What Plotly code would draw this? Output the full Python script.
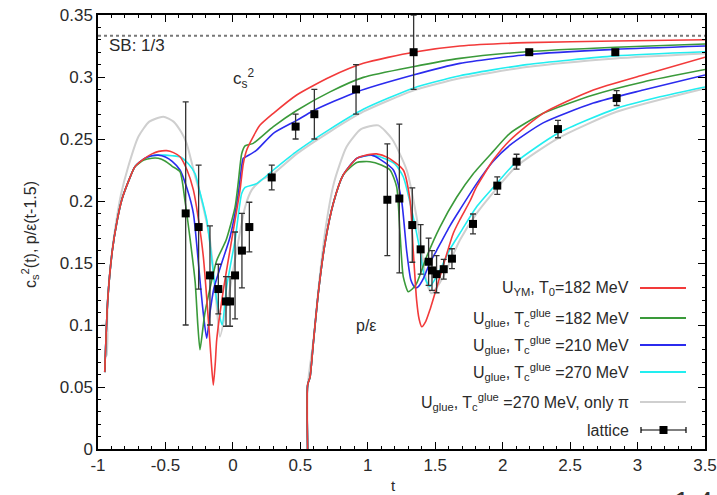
import plotly.graph_objects as go

# ---------------- data -----------------
SB_LIMIT = 1.0 / 3.0

# lattice c_s^2 points
lat_cs_t = [-0.35, -0.254, -0.17, -0.108, -0.051, -0.021, 0.016, 0.067, 0.122, 0.288, 0.465, 0.604, 0.913, 1.34, 2.197, 2.835]
lat_cs_y = [0.19, 0.179, 0.14, 0.129, 0.119, 0.119, 0.14, 0.16, 0.179, 0.219, 0.26, 0.27, 0.29, 0.32, 0.32, 0.32]
lat_cs_e = [0.09, 0.05, 0.04, 0.02, 0.02, 0.02, 0.035, 0.03, 0.02, 0.01, 0.01, 0.02, 0.02, 0.03, 0.0, 0.0]

# lattice p/eps points (shifted by 1.5)
lat_pe_t = [1.145, 1.234, 1.33, 1.392, 1.451, 1.476, 1.51, 1.563, 1.624, 1.78, 1.96, 2.103, 2.41, 2.845]
lat_pe_y = [0.201, 0.202, 0.1806, 0.161, 0.151, 0.144, 0.141, 0.145, 0.1535, 0.1815, 0.2124, 0.2317, 0.258, 0.283]
lat_pe_e = [0.045, 0.06, 0.03, 0.02, 0.019, 0.016, 0.015, 0.008, 0.008, 0.008, 0.007, 0.006, 0.007, 0.006]

# c_s^2 curves
red_cs_t = [-0.95, -0.928, -0.894, -0.86, -0.824, -0.77, -0.726, -0.66, -0.6, -0.55, -0.49, -0.44, -0.392, -0.34, -0.293, -0.255, -0.219, -0.18, -0.16, -0.145, -0.13, -0.12, -0.071, -0.009, 0.053, 0.077, 0.102, 0.151, 0.2, 0.3, 0.473, 0.72, 0.967, 1.337, 1.683, 2.177, 2.835, 3.5]
red_cs_y = [0.062, 0.12, 0.16, 0.183, 0.2008, 0.217, 0.2277, 0.234, 0.238, 0.24, 0.2406, 0.239, 0.2357, 0.225, 0.209, 0.185, 0.155, 0.1015, 0.07, 0.0516, 0.07, 0.088, 0.128, 0.1685, 0.209, 0.23, 0.241, 0.252, 0.261, 0.2707, 0.2855, 0.3, 0.311, 0.32, 0.325, 0.3277, 0.329, 0.33]

green_cs_t = [-0.95, -0.928, -0.894, -0.86, -0.824, -0.77, -0.726, -0.66, -0.6, -0.553, -0.5, -0.45, -0.392, -0.355, -0.318, -0.28, -0.26, -0.244, -0.225, -0.207, -0.12, -0.05, 0.016, 0.04, 0.065, 0.09, 0.151, 0.3, 0.473, 0.72, 0.967, 1.337, 1.683, 2.177, 2.835, 3.5]
green_cs_y = [0.062, 0.12, 0.16, 0.183, 0.2008, 0.217, 0.2277, 0.233, 0.2345, 0.2344, 0.232, 0.228, 0.2236, 0.2, 0.17, 0.135, 0.1, 0.08, 0.095, 0.11, 0.152, 0.1685, 0.195, 0.215, 0.238, 0.2445, 0.2465, 0.26, 0.273, 0.288, 0.2997, 0.3083, 0.315, 0.3204, 0.324, 0.3266]

blue_cs_t = [-0.95, -0.928, -0.894, -0.86, -0.824, -0.77, -0.726, -0.66, -0.6, -0.553, -0.5, -0.45, -0.392, -0.34, -0.293, -0.244, -0.22, -0.194, -0.17, -0.14, -0.083, -0.021, 0.04, 0.065, 0.077, 0.102, 0.176, 0.3, 0.473, 0.596, 0.918, 1.337, 1.683, 2.177, 2.835, 3.5]
blue_cs_y = [0.062, 0.12, 0.16, 0.183, 0.2008, 0.217, 0.2277, 0.234, 0.2365, 0.237, 0.2355, 0.232, 0.225, 0.21, 0.19, 0.136, 0.11, 0.0893, 0.11, 0.13, 0.15, 0.171, 0.206, 0.228, 0.2344, 0.236, 0.241, 0.2546, 0.265, 0.2728, 0.288, 0.3016, 0.311, 0.318, 0.3223, 0.325]

cyan_cs_t = [-0.95, -0.928, -0.894, -0.86, -0.824, -0.77, -0.726, -0.66, -0.6, -0.553, -0.5, -0.45, -0.392, -0.33, -0.28, -0.244, -0.194, -0.15, -0.12, -0.08, -0.046, 0.016, 0.065, 0.09, 0.176, 0.3, 0.473, 0.72, 0.967, 1.337, 1.683, 2.177, 2.835, 3.5]
cyan_cs_y = [0.062, 0.12, 0.16, 0.183, 0.2008, 0.217, 0.2277, 0.234, 0.2365, 0.237, 0.237, 0.2365, 0.2357, 0.23, 0.222, 0.207, 0.1847, 0.147, 0.12, 0.1, 0.131, 0.1685, 0.206, 0.211, 0.214, 0.225, 0.24, 0.258, 0.274, 0.291, 0.301, 0.31, 0.317, 0.3204]

gray_cs_t = [-0.975, -0.935, -0.935, -0.928, -0.9, -0.87, -0.83, -0.775, -0.7, -0.62, -0.516, -0.44, -0.38, -0.343, -0.28, -0.244, -0.17, -0.13, -0.096, -0.046, 0.028, 0.09, 0.14, 0.213, 0.3, 0.473, 0.72, 0.967, 1.337, 1.683, 2.177, 2.835, 3.5]
gray_cs_y = [0.1, 0.1, 0.075, 0.12, 0.155, 0.18, 0.205, 0.228, 0.252, 0.264, 0.268, 0.264, 0.255, 0.2465, 0.22, 0.206, 0.1685, 0.128, 0.0906, 0.115, 0.16, 0.195, 0.209, 0.217, 0.222, 0.238, 0.256, 0.272, 0.289, 0.299, 0.308, 0.315, 0.319]

# p/eps curves (argument t-1.5)
red_pe_t = [0.554, 0.554, 0.572, 0.596, 0.633, 0.683, 0.744, 0.818, 0.918, 0.97, 1.065, 1.15, 1.263, 1.313, 1.337, 1.362, 1.38, 1.4, 1.43, 1.46, 1.535, 1.634, 1.683, 1.758, 1.807, 1.93, 2.054, 2.3, 2.672, 3.042, 3.5]
red_pe_y = [0.0, 0.0516, 0.058, 0.085, 0.1256, 0.166, 0.198, 0.221, 0.2344, 0.2365, 0.238, 0.235, 0.225, 0.2008, 0.16, 0.12, 0.105, 0.0986, 0.103, 0.112, 0.139, 0.174, 0.185, 0.2, 0.2115, 0.233, 0.249, 0.2707, 0.2895, 0.3016, 0.316]

green_pe_t = [0.554, 0.554, 0.572, 0.596, 0.633, 0.683, 0.744, 0.818, 0.918, 1.016, 1.1, 1.165, 1.214, 1.239, 1.263, 1.3, 1.33, 1.362, 1.436, 1.535, 1.659, 1.782, 1.93, 2.054, 2.3, 2.672, 3.042, 3.5]
green_pe_y = [0.0, 0.0516, 0.058, 0.085, 0.1256, 0.166, 0.198, 0.221, 0.231, 0.2317, 0.229, 0.225, 0.2115, 0.174, 0.139, 0.1269, 0.129, 0.1336, 0.155, 0.179, 0.203, 0.222, 0.24, 0.2546, 0.2707, 0.2855, 0.296, 0.306]

blue_pe_t = [0.554, 0.554, 0.572, 0.596, 0.633, 0.683, 0.744, 0.818, 0.918, 1.028, 1.1, 1.19, 1.25, 1.288, 1.32, 1.35, 1.375, 1.41, 1.46, 1.51, 1.609, 1.683, 1.807, 1.93, 2.054, 2.3, 2.672, 3.042, 3.5]
blue_pe_y = [0.0, 0.0516, 0.058, 0.085, 0.1256, 0.166, 0.198, 0.221, 0.2344, 0.237, 0.233, 0.225, 0.2008, 0.16, 0.136, 0.13, 0.131, 0.137, 0.15, 0.16, 0.18, 0.193, 0.214, 0.232, 0.245, 0.263, 0.279, 0.2895, 0.3016]

cyan_pe_t = [0.554, 0.554, 0.572, 0.596, 0.633, 0.683, 0.744, 0.818, 0.918, 1.028, 1.09, 1.2, 1.263, 1.337, 1.387, 1.42, 1.46, 1.523, 1.609, 1.683, 1.807, 1.955, 2.103, 2.41, 2.845, 3.166, 3.5]
cyan_pe_y = [0.0, 0.0516, 0.058, 0.085, 0.1256, 0.166, 0.198, 0.221, 0.2344, 0.237, 0.2357, 0.23, 0.2196, 0.187, 0.16, 0.139, 0.131, 0.1417, 0.161, 0.174, 0.1954, 0.214, 0.2317, 0.2546, 0.2747, 0.284, 0.292]

gray_pe_t = [0.554, 0.554, 0.6, 0.64, 0.69, 0.75, 0.843, 0.95, 1.078, 1.18, 1.288, 1.362, 1.41, 1.44, 1.473, 1.51, 1.56, 1.683, 1.807, 1.955, 2.103, 2.41, 2.845, 3.5]
gray_pe_y = [0.0, 0.05, 0.09, 0.135, 0.18, 0.215, 0.2438, 0.258, 0.261, 0.25, 0.225, 0.187, 0.152, 0.133, 0.1256, 0.13, 0.139, 0.1685, 0.19, 0.21, 0.228, 0.2506, 0.272, 0.2908]

legend_labels = [
    "U<sub>YM</sub>, T<sub>0</sub>=182 MeV",
    "U<sub>glue</sub>, T<sub>c</sub><sup>glue</sup> =182 MeV",
    "U<sub>glue</sub>, T<sub>c</sub><sup>glue</sup> =210 MeV",
    "U<sub>glue</sub>, T<sub>c</sub><sup>glue</sup> =270 MeV",
    "U<sub>glue</sub>, T<sub>c</sub><sup>glue</sup> =270 MeV, only π",
    "lattice",
]

x_ticks = [-1, -0.5, 0, 0.5, 1, 1.5, 2, 2.5, 3, 3.5]
x_tick_text = ["-1", "-0.5", "0", "0.5", "1", "1.5", "2", "2.5", "3", "3.5"]
y_ticks = [0, 0.05, 0.1, 0.15, 0.2, 0.25, 0.3, 0.35]
y_tick_text = ["0", "0.05", "0.1", "0.15", "0.2", "0.25", "0.3", "0.35"]

# ---------------- styles -----------------
RED = "#f23a3a"
GREEN = "#3a9a3a"
BLUE = "#2b2bee"
CYAN = "#22eef0"
GRAY = "#cfcfcf"
FONT = "Liberation Sans, Arial, sans-serif"
TXT = "#2a2a2a"

fig = go.Figure()

def curve(t, y, color, width=1.6):
    fig.add_trace(go.Scatter(x=t, y=y, mode="lines", line=dict(color=color, width=width, shape="spline", smoothing=0.6),
                             showlegend=False, hoverinfo="skip"))

curve(gray_cs_t, gray_cs_y, GRAY, 2.0)
curve(gray_pe_t, gray_pe_y, GRAY, 2.0)
curve(cyan_cs_t, cyan_cs_y, CYAN)
curve(cyan_pe_t, cyan_pe_y, CYAN)
curve(blue_cs_t, blue_cs_y, BLUE)
curve(blue_pe_t, blue_pe_y, BLUE)
curve(green_cs_t, green_cs_y, GREEN)
curve(green_pe_t, green_pe_y, GREEN)
curve(red_cs_t, red_cs_y, RED)
curve(red_pe_t, red_pe_y, RED)

for tt, yy, ee in [(lat_cs_t, lat_cs_y, lat_cs_e), (lat_pe_t, lat_pe_y, lat_pe_e)]:
    fig.add_trace(go.Scatter(
        x=tt, y=yy, mode="markers",
        marker=dict(symbol="square", size=8, color="black"),
        error_y=dict(type="data", array=ee, visible=True, color="#333333", thickness=1.3, width=3),
        showlegend=False, hoverinfo="skip"))

# ---------------- layout -----------------
L, R, T, B = 98, 12, 15, 46
W, H = 717, 495
pw, ph = W - L - R, H - T - B

def px_x(px):
    return (px - L) / pw

def px_y(py):
    return (H - B - py) / ph

shapes = [dict(type="line", xref="paper", yref="y", x0=0, x1=1, y0=SB_LIMIT, y1=SB_LIMIT,
               line=dict(color="#777777", width=2, dash="dot"))]
annotations = []

legend_rows = [288, 318, 345, 372, 402, 430]
legend_colors = [RED, GREEN, BLUE, CYAN, GRAY, None]
for lab, py, col in zip(legend_labels, legend_rows, legend_colors):
    annotations.append(dict(xref="paper", yref="paper", x=px_x(631), y=px_y(py), xanchor="right", yanchor="middle",
                            text=lab, showarrow=False, font=dict(family=FONT, size=16, color=TXT)))
    if col is not None:
        shapes.append(dict(type="line", xref="paper", yref="paper", x0=px_x(640), x1=px_x(686), y0=px_y(py), y1=px_y(py),
                           line=dict(color=col, width=2)))
    else:
        shapes.append(dict(type="line", xref="paper", yref="paper", x0=px_x(641), x1=px_x(686), y0=px_y(py), y1=px_y(py),
                           line=dict(color="black", width=1.2)))
        for cx in (641, 686):
            shapes.append(dict(type="line", xref="paper", yref="paper", x0=px_x(cx), x1=px_x(cx), y0=px_y(py - 3), y1=px_y(py + 3),
                               line=dict(color="black", width=1.2)))
        shapes.append(dict(type="rect", xref="paper", yref="paper", x0=px_x(659.5), x1=px_x(667.5), y0=px_y(py - 4), y1=px_y(py + 4),
                           line=dict(color="black", width=0), fillcolor="black"))

annotations += [
    dict(xref="paper", yref="paper", x=px_x(107), y=px_y(45), xanchor="left", yanchor="middle", text="SB: 1/3",
         showarrow=False, font=dict(family=FONT, size=17, color=TXT)),
    dict(xref="paper", yref="paper", x=px_x(231), y=px_y(78), xanchor="left", yanchor="middle", text="c<sub>s</sub><sup>2</sup>",
         showarrow=False, font=dict(family=FONT, size=17, color=TXT)),
    dict(xref="paper", yref="paper", x=px_x(354), y=px_y(325), xanchor="left", yanchor="middle", text="p/ε",
         showarrow=False, font=dict(family=FONT, size=16, color=TXT)),
    dict(xref="paper", yref="paper", x=px_x(30), y=px_y(235), xanchor="center", yanchor="middle", textangle=-90,
         text="c<sub>s</sub><sup>2</sup>(t), p/ε(t-1.5)", showarrow=False, font=dict(family=FONT, size=16, color=TXT)),
    dict(xref="paper", yref="paper", x=px_x(393), y=px_y(485), xanchor="center", yanchor="middle", text="t",
         showarrow=False, font=dict(family=FONT, size=15, color=TXT)),
    dict(xref="paper", yref="paper", x=px_x(672), y=px_y(484), xanchor="left", yanchor="top", text="1.4",
         showarrow=False, font=dict(family=FONT, size=28, color="#333333")),
]

axis_common = dict(showline=True, linecolor="black", linewidth=1.5, mirror="allticks", ticks="inside",
                   ticklen=7, tickwidth=1.2, tickcolor="black", showgrid=False, zeroline=False,
                   automargin=False, tickfont=dict(family=FONT, size=17, color=TXT))

fig.update_layout(
    width=W, height=H,
    margin=dict(l=L, r=R, t=T, b=B, pad=0, autoexpand=False),
    paper_bgcolor="white", plot_bgcolor="white",
    xaxis=dict(range=[-1, 3.5], tickvals=x_ticks, ticktext=x_tick_text,
               minor=dict(dtick=0.1, ticks="inside", ticklen=3.5, tickcolor="black", tickwidth=1), **axis_common),
    yaxis=dict(range=[0, 0.35], tickvals=y_ticks, ticktext=y_tick_text,
               minor=dict(dtick=0.01, ticks="inside", ticklen=3.5, tickcolor="black", tickwidth=1), **axis_common),
    shapes=shapes, annotations=annotations, showlegend=False,
)

fig.write_html("out.html")
